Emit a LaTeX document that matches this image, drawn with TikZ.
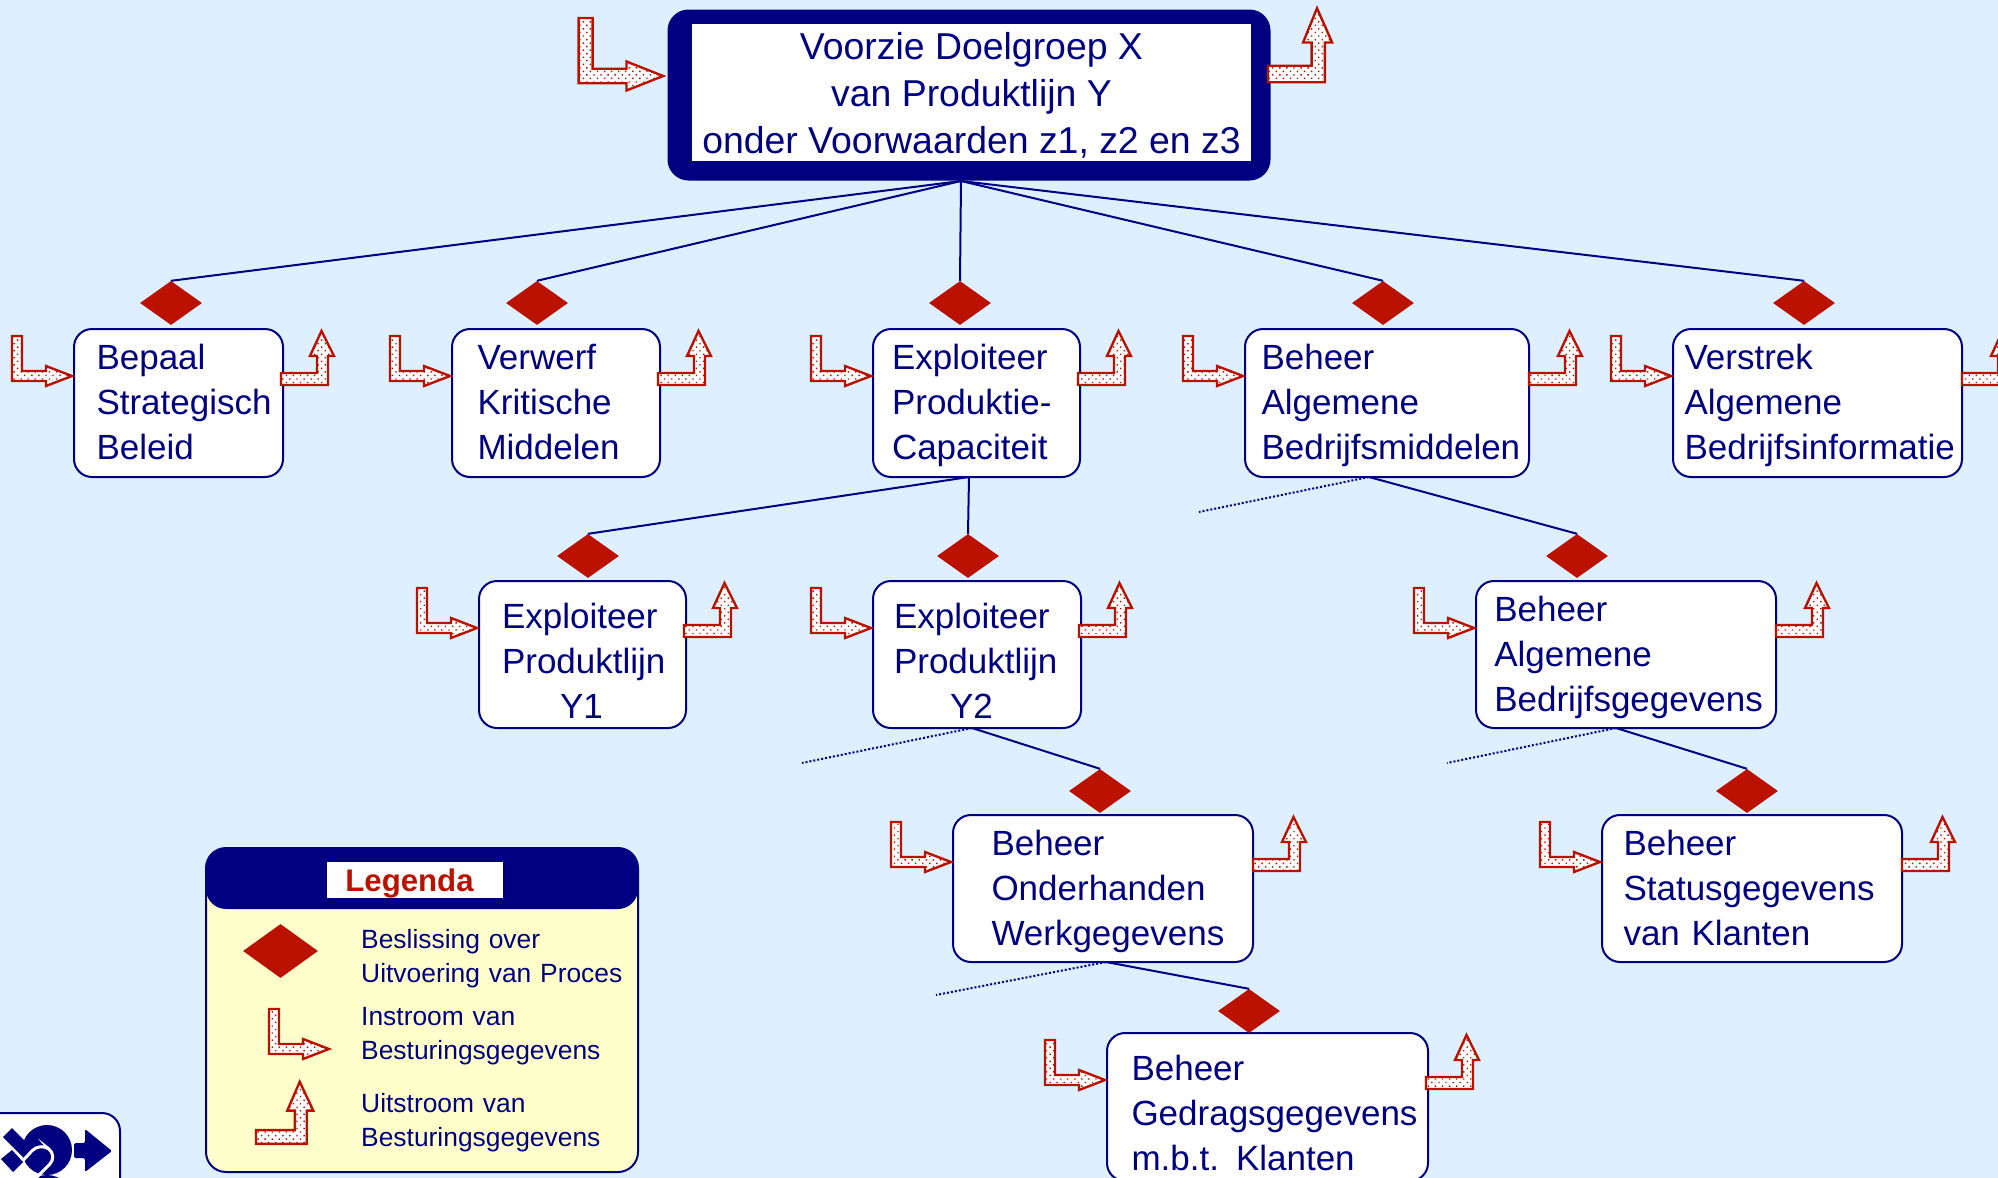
\documentclass[tikz,border=0pt]{standalone}
\usepackage{fontspec}
\setmainfont{Liberation Sans}
\usetikzlibrary{shapes.geometric,patterns.meta}
\definecolor{bgblue}{RGB}{222,240,255}
\definecolor{navyc}{RGB}{0,0,128}
\definecolor{redc}{RGB}{187,17,0}
\definecolor{legendc}{RGB}{255,255,204}
\tikzset{
  x=1pt,y=-1pt,
  flowshape/.style={draw=redc,line width=2.4pt,line join=miter,preaction={fill=white},pattern={Dots[radius=1pt,distance=5pt,angle=45]},pattern color=redc},
  inflow/.pic={\draw[flowshape] (-62,-40)--(-52,-40)--(-52,-5)--(-28,-5)--(-28,-10)--(-2,0)--(-28,10)--(-28,5)--(-62,5)--cycle;},
  outflow/.pic={\draw[flowshape] (0,-6)--(36,-6)--(36,-23)--(29,-23)--(40.5,-48)--(53,-23)--(47,-23)--(47,6)--(0,6)--cycle;},
  procbox/.style={draw=navyc,fill=white,line width=2pt,rounded corners=18pt,inner sep=0pt,text=navyc,align=left,
    font=\fontsize{35}{45}\selectfont,text height=0pt,text depth=68pt},
  midbox/.style={text depth=66pt},
  lowered/.style={text depth=52pt},
  decide/.style={diamond,fill=redc,inner sep=0pt,minimum width=62pt,minimum height=44pt},
  link/.style={draw=navyc,line width=2pt},
  dotlink/.style={draw=navyc,line width=2pt,dash pattern=on 2pt off 2pt},
  legtext/.style={anchor=base west,inner sep=0pt,text=navyc,text width=285pt,align=left,font=\fontsize{26.4}{34}\selectfont},
}
\newcommand\procnode[7][]{%
  \pgfmathsetmacro\pbW{#5-#3}\pgfmathsetmacro\pbH{#6-#4}%
  \node[procbox,minimum width=\pbW pt,minimum height=\pbH pt,text width=\pbW pt,#1] (#2) at ({(#3+#5)/2},{(#4+#6)/2}) {#7\par};%
}
\begin{document}
\begin{tikzpicture}
\path[use as bounding box,fill=bgblue] (0,0) rectangle (1998,1178);
\clip (0,0) rectangle (1998,1178);

% top process
\node[fill=navyc,rounded corners=21pt,minimum width=603pt,minimum height=171pt,inner sep=0pt] (goalframe) at (969,95) {};
\node[fill=white,minimum width=559pt,minimum height=137pt,inner sep=0pt] (goal) at (971.5,92.5) {};
\node[inner sep=0pt,text=navyc,align=center,font=\fontsize{37.4}{47}\selectfont] (goaltext) at (971.5,95) {Voorzie Doelgroep X\\van Produktlijn Y\\onder Voorwaarden z1, z2 en z3};
\pic[xscale=1.41,yscale=1.45] at (666,76) {inflow};
\pic[xscale=1.21,yscale=1.37] at (1268,74) {outflow};

% process boxes
\procnode{bepaal}{74}{329}{283}{477}{\leftskip=22.5pt Bepaal\\Strategisch\\Beleid}
\procnode{verwerf}{452}{329}{660}{477}{\leftskip=25.5pt Verwerf\\Kritische\\Middelen}
\procnode{cap}{873}{329}{1080}{477}{\leftskip=19pt Exploiteer\\Produktie-\\Capaciteit}
\procnode{middelen}{1245}{329}{1529}{477}{\leftskip=16.5pt Beheer\\Algemene\\Bedrijfsmiddelen}
\procnode{info}{1673}{329}{1962}{477}{\leftskip=11.5pt Verstrek\\Algemene\\Bedrijfsinformatie}
\procnode[lowered]{yone}{479}{581}{686}{728}{\leftskip=23pt Exploiteer\\Produktlijn\\\hspace*{58pt}Y1}
\procnode[lowered]{ytwo}{873}{581}{1081}{728}{\leftskip=21pt Exploiteer\\Produktlijn\\\hspace*{56pt}Y2}
\procnode[midbox]{gegevens}{1476}{581}{1776}{728}{\leftskip=18.3pt Beheer\\Algemene\\Bedrijfsgegevens}
\procnode[midbox]{werk}{953}{815}{1253}{962}{\leftskip=38.5pt Beheer\\Onderhanden\\Werkgegevens}
\procnode[midbox]{status}{1602}{815}{1902}{962}{\leftskip=21.5pt Beheer\\Statusgegevens\\van Klanten}
\procnode[lowered,text depth=54pt]{gedrag}{1107}{1033}{1428}{1181}{\leftskip=24.5pt Beheer\\Gedragsgegevens\\m.b.t.\hspace*{17pt}Klanten}

% decisions
\node[decide] (d1) at (171,303) {};
\node[decide] (d2) at (537,303) {};
\node[decide] (d3) at (960,303) {};
\node[decide] (d4) at (1383,303) {};
\node[decide] (d5) at (1804,303) {};
\node[decide] (d6) at (588,556) {};
\node[decide] (d7) at (968,556) {};
\node[decide] (d8) at (1577,556) {};
\node[decide] (d9) at (1100,791) {};
\node[decide] (d10) at (1747,791) {};
\node[decide] (d11) at (1249,1011) {};

% junctions
\coordinate (j0) at (961,181);
\coordinate (j1) at (969,477);
\coordinate (j2) at (1369,477);
\coordinate (j3) at (972,728);
\coordinate (j4) at (1616,728);
\coordinate (j5) at (1106,962);
\coordinate (e2) at (1199,512);
\coordinate (e3) at (802,763);
\coordinate (e4) at (1447,763);
\coordinate (e5) at (936,995);

\draw[link] (j0)--(d1.north);
\draw[link] (j0)--(d2.north);
\draw[link] (j0)--(d3.north);
\draw[link] (j0)--(d4.north);
\draw[link] (j0)--(d5.north);
\draw[link] (j1)--(d6.north);
\draw[link] (j1)--(d7.north);
\draw[link] (j2)--(d8.north);
\draw[link] (j3)--(d9.north);
\draw[link] (j4)--(d10.north);
\draw[link] (j5)--(d11.north);
\draw[dotlink] (j2)--(e2);
\draw[dotlink] (j3)--(e3);
\draw[dotlink] (j4)--(e4);
\draw[dotlink] (j5)--(e5);

% flows
\pic at (74,376) {inflow};   \pic at (281,379) {outflow};
\pic at (452,376) {inflow};  \pic at (658,379) {outflow};
\pic at (873,376) {inflow};  \pic at (1078,379) {outflow};
\pic at (1245,376) {inflow}; \pic at (1529,379) {outflow};
\pic at (1673,376) {inflow}; \pic at (1962,379) {outflow};
\pic at (479,628) {inflow};  \pic at (684,631) {outflow};
\pic at (873,628) {inflow};  \pic at (1079,631) {outflow};
\pic at (1476,628) {inflow}; \pic at (1776,631) {outflow};
\pic at (953,862) {inflow};  \pic at (1253,865) {outflow};
\pic at (1602,862) {inflow}; \pic at (1902,865) {outflow};
\pic at (1107,1080) {inflow};\pic at (1426,1083) {outflow};

% legend
\draw[navyc,line width=2pt,fill=legendc,rounded corners=20pt] (206,848) rectangle (638,1172);
\fill[navyc,rounded corners=20pt] (206,848) rectangle (638,909);
\node[fill=white,minimum width=176pt,minimum height=36pt,inner sep=0pt] (legtitlebox) at (415,880) {};
\node[text=redc,inner sep=0pt,font=\fontsize{31.2}{36}\selectfont\bfseries] (legtitle) at (409.5,883) {Legenda};
\node[diamond,fill=redc,inner sep=0pt,minimum width=75pt,minimum height=54pt] (legd) at (280.5,951) {};
\pic at (331,1049) {inflow};
\pic[xscale=1.08,yscale=1.15] at (256,1137) {outflow};
\node[legtext] (l1) at (361,948) {Beslissing over\\Uitvoering van Proces};
\node[legtext] (l2) at (361,1025) {Instroom van\\Besturingsgegevens};
\node[legtext] (l3) at (361,1112) {Uitstroom van\\Besturingsgegevens};

% logo
\draw[navyc,line width=2pt,fill=white,rounded corners=18pt] (-30,1113) rectangle (120,1220);
\fill[navyc] (47,1150) circle (25);
\fill[navyc] (47,1200) circle (25);
\draw[white,line width=3pt,rounded corners=12pt] (7,1178)--(40,1142)--(58,1156)--(36,1178);
\fill[navyc] (12,1128)--(3,1137)--(23,1157)--(32,1148)--cycle;
\fill[navyc] (12,1150)--(1,1159)--(13,1172)--(23,1162)--cycle;
\fill[navyc,rounded corners=1.5pt] (74,1143)--(85,1143)--(85,1129)--(112,1151)--(85,1172)--(85,1158)--(74,1158)--cycle;
\end{tikzpicture}
\end{document}
